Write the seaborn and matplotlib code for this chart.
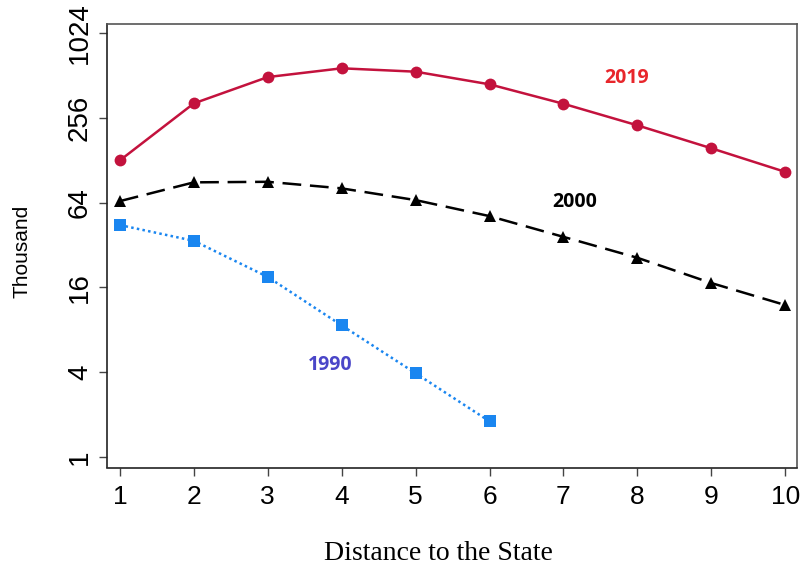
import matplotlib
matplotlib.use("Agg")
import matplotlib.pyplot as plt
import seaborn as sns
import pandas as pd

# ---- data ----
distance = [1, 2, 3, 4, 5, 6, 7, 8, 9, 10]
y2019 = [128, 325, 500, 577, 546, 444, 323, 227, 156, 106]
y2000 = [65.7, 89.3, 90.1, 80.9, 66.8, 51.4, 36.6, 26.0, 17.2, 12.0]
distance_1990 = [1, 2, 3, 4, 5, 6]
y1990 = [44.4, 34.3, 19.0, 8.6, 3.93, 1.79]

y_ticks = [1, 4, 16, 64, 256, 1024]
x_ticks = [1, 2, 3, 4, 5, 6, 7, 8, 9, 10]

series_labels = ["2019", "2000", "1990"]
label_pos = {"2019": (7.86, 493), "2000": (7.15, 64.4), "1990": (3.85, 4.48)}

sns.set_style("white")
plt.rcParams["font.family"] = ["Liberation Sans", "DejaVu Sans"]

fig = plt.figure(figsize=(8.02, 5.66), dpi=100)
ax = fig.add_axes([107 / 802, 1 - 467.5 / 566, 690 / 802, 444 / 566])

df19 = pd.DataFrame({"x": distance, "y": y2019})
df00 = pd.DataFrame({"x": distance, "y": y2000})
df90 = pd.DataFrame({"x": distance_1990, "y": y1990})

sns.lineplot(data=df19, x="x", y="y", ax=ax, color="#c3123d", lw=1.8,
             marker="o", markersize=8.5, markeredgewidth=0, linestyle="-")
sns.lineplot(data=df00, x="x", y="y", ax=ax, color="black", lw=1.8,
             marker="^", markersize=9, markeredgewidth=0,
             linestyle=(0, (7.5, 3.5)))
sns.lineplot(data=df90, x="x", y="y", ax=ax, color="#1a86f0", lw=1.8,
             marker="s", markersize=8, markeredgewidth=0,
             linestyle=(0, (1, 1.3)))

ax.set_yscale("log", base=2)
ax.set_ylim(2 ** -0.25, 1024 * 2 ** 0.23)
ax.set_xlim(0.825, 10.16)
ax.set_yticks(y_ticks)
ax.set_yticklabels([str(v) for v in y_ticks])
ax.minorticks_off()
ax.set_xticks(x_ticks)
ax.set_xticklabels([str(v) for v in x_ticks])

ax.tick_params(axis="y", which="major", left=True, length=6, width=1.0,
               color="#444444", labelsize=20, labelcolor="black", pad=4,
               labelrotation=90)
ax.tick_params(axis="x", which="major", bottom=True, length=5.5, width=1.0,
               color="#444444", labelsize=19, labelcolor="black", pad=7)
for lab in ax.get_yticklabels():
    lab.set_va("center")

for s in ax.spines.values():
    s.set_color("#555555")
    s.set_linewidth(1.2)
ax.spines["left"].set_color("#222222")
ax.spines["bottom"].set_color("#222222")

ax.set_xlabel("Distance to the State", family=["Liberation Serif", "DejaVu Serif"],
              fontsize=20, color="black")
ax.xaxis.set_label_coords(0.481, -0.165)
ax.set_ylabel("Thousand", fontsize=15, color="black")
ax.yaxis.set_label_coords(-0.11, 0.486)

label_colors = {"2019": "#e8262b", "2000": "black", "1990": "#4a46c8"}
for name in series_labels:
    x, y = label_pos[name]
    ax.text(x, y, name, color=label_colors[name], fontsize=14,
            fontweight="bold", family=["Open Sans", "DejaVu Sans"],
            ha="center", va="center")

fig.savefig("out.png", dpi=100)
